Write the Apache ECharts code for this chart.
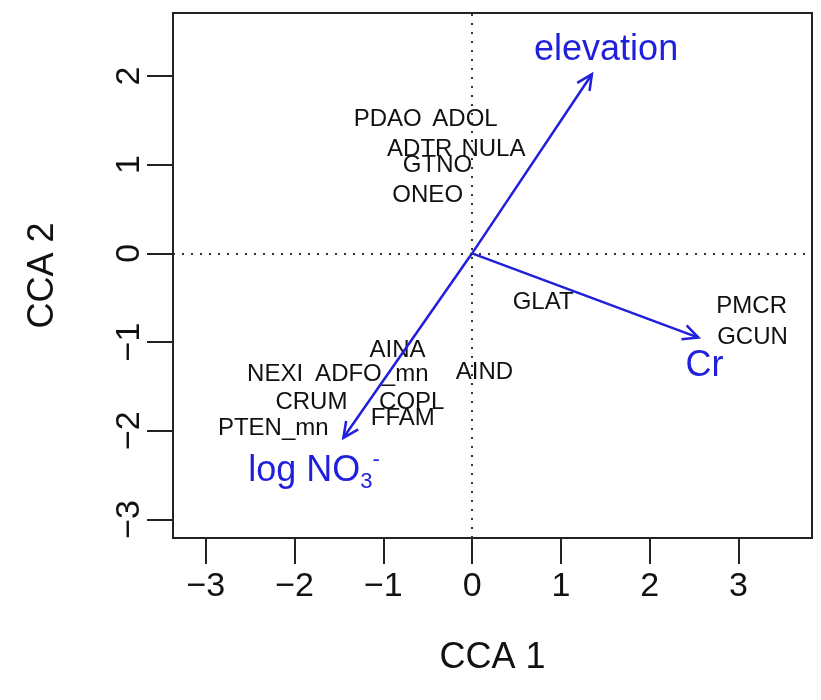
<!DOCTYPE html>
<html>
<head>
<meta charset="utf-8">
<script src="https://cdn.jsdelivr.net/npm/echarts@6/dist/echarts.min.js"></script>
<style>
html, body { margin: 0; padding: 0; background: #fff; }
#chart { width: 821px; height: 700px; }
</style>
</head>
<body>
<div id="chart"></div>
<script>
// species scores (CCA 1, CCA 2)
var speciesNames = ['PDAO', 'ADOL', 'ADTR', 'NULA', 'GTNO', 'ONEO', 'GLAT', 'PMCR', 'GCUN',
  'AINA', 'NEXI', 'ADFO_mn', 'AIND', 'CRUM', 'COPL', 'FFAM', 'PTEN_mn'];
var speciesX = [-0.95, -0.08, -0.59, 0.24, -0.39, -0.50, 0.80, 3.15, 3.16,
  -0.84, -2.22, -1.13, 0.14, -1.81, -0.68, -0.78, -2.24];
var speciesY = [1.51, 1.51, 1.17, 1.17, 0.99, 0.65, -0.55, -0.60, -0.95,
  -1.09, -1.37, -1.37, -1.34, -1.68, -1.68, -1.86, -1.97];

// environmental arrows
var envNames = ['elevation', 'Cr', 'log NO3-'];
var envX = [1.35, 2.55, -1.45];
var envY = [2.02, -0.95, -2.08];
var envLabelX = [1.51, 2.62, -1.78];
var envLabelY = [2.29, -1.27, -2.45];

var tickValues = [-3, -2, -1, 0, 1, 2, 3];

var blue = '#1f1fdc';
var ink = '#111111';
var font = 'Liberation Sans, Arial, sans-serif';

var chart = echarts.init(document.getElementById('chart'));

var speciesData = speciesNames.map(function (n, i) {
  return { name: n, value: [speciesX[i], speciesY[i]] };
});
var arrowData = envNames.map(function (n, i) {
  return { name: n, value: [envX[i], envY[i]] };
});
var envLabelData = envNames.map(function (n, i) {
  return { name: n, value: [envLabelX[i], envLabelY[i]] };
});

function minusFmt(v) {
  return v < 0 ? '\u2212' + Math.abs(v) : String(v);
}

var option = {
  animation: false,
  backgroundColor: '#fff',
  grid: {
    left: 173, right: 9, top: 13, bottom: 162,
    show: true, borderColor: '#222', borderWidth: 2, backgroundColor: 'transparent'
  },
  xAxis: {
    type: 'value', min: -3.37, max: 3.83,
    splitLine: { show: false },
    axisLine: { show: false, onZero: false },
    axisTick: { show: true, customValues: tickValues, length: 26, inside: false,
      lineStyle: { color: '#222', width: 2 } },
    axisLabel: { customValues: tickValues, formatter: minusFmt, fontSize: 34,
      color: ink, fontFamily: font, margin: 32 },
    name: 'CCA 1', nameLocation: 'middle', nameGap: 102,
    nameTextStyle: { fontSize: 36, color: ink, fontFamily: font }
  },
  yAxis: {
    type: 'value', min: -3.21, max: 2.71,
    splitLine: { show: false },
    axisLine: { show: false, onZero: false },
    axisTick: { show: true, customValues: tickValues, length: 26, inside: false,
      lineStyle: { color: '#222', width: 2 } },
    axisLabel: { customValues: tickValues, formatter: minusFmt, fontSize: 34,
      color: ink, fontFamily: font, margin: 26, rotate: 90 },
    name: 'CCA 2', nameLocation: 'middle', nameGap: 112,
    nameTextStyle: { fontSize: 36, color: ink, fontFamily: font }
  },
  series: [
    {
      type: 'scatter',
      data: speciesData,
      symbolSize: 1,
      itemStyle: { color: 'rgba(0,0,0,0)', opacity: 1 },
      label: {
        show: true, position: 'inside', formatter: '{b}',
        fontSize: 24, color: ink, fontFamily: font
      },
      markLine: {
        silent: true, symbol: 'none',
        label: { show: false },
        lineStyle: { type: [2, 7], color: '#333', width: 2 },
        data: [{ xAxis: 0 }, { yAxis: 0 }]
      },
      z: 3
    },
    {
      type: 'custom',
      data: arrowData,
      renderItem: function (params, api) {
        var o = api.coord([0, 0]);
        var p = api.coord([api.value(0), api.value(1)]);
        var ang = Math.atan2(p[1] - o[1], p[0] - o[0]);
        var L = 17, a = Math.PI / 7;
        var h1 = [p[0] - L * Math.cos(ang - a), p[1] - L * Math.sin(ang - a)];
        var h2 = [p[0] - L * Math.cos(ang + a), p[1] - L * Math.sin(ang + a)];
        return {
          type: 'group',
          children: [
            { type: 'line', shape: { x1: o[0], y1: o[1], x2: p[0], y2: p[1] },
              style: { stroke: blue, lineWidth: 2.5 } },
            { type: 'polyline', shape: { points: [h1, p, h2] },
              style: { stroke: blue, lineWidth: 2.5, fill: null } }
          ]
        };
      },
      z: 4
    },
    {
      type: 'scatter',
      data: envLabelData,
      symbolSize: 1,
      itemStyle: { color: 'rgba(0,0,0,0)', opacity: 1 },
      label: {
        show: true, position: 'inside',
        formatter: function (p) {
          if (p.name === 'log NO3-') return '{a|log NO}{sub|3}{sup|-}';
          return '{a|' + p.name + '}';
        },
        rich: {
          a: { fontSize: 36, color: blue, fontFamily: font, lineHeight: 44 },
          sub: { fontSize: 22, color: blue, fontFamily: font, verticalAlign: 'bottom', lineHeight: 22 },
          sup: { fontSize: 22, color: blue, fontFamily: font, verticalAlign: 'top', lineHeight: 22 }
        }
      },
      z: 5
    }
  ]
};

chart.setOption(option);
</script>
</body>
</html>
